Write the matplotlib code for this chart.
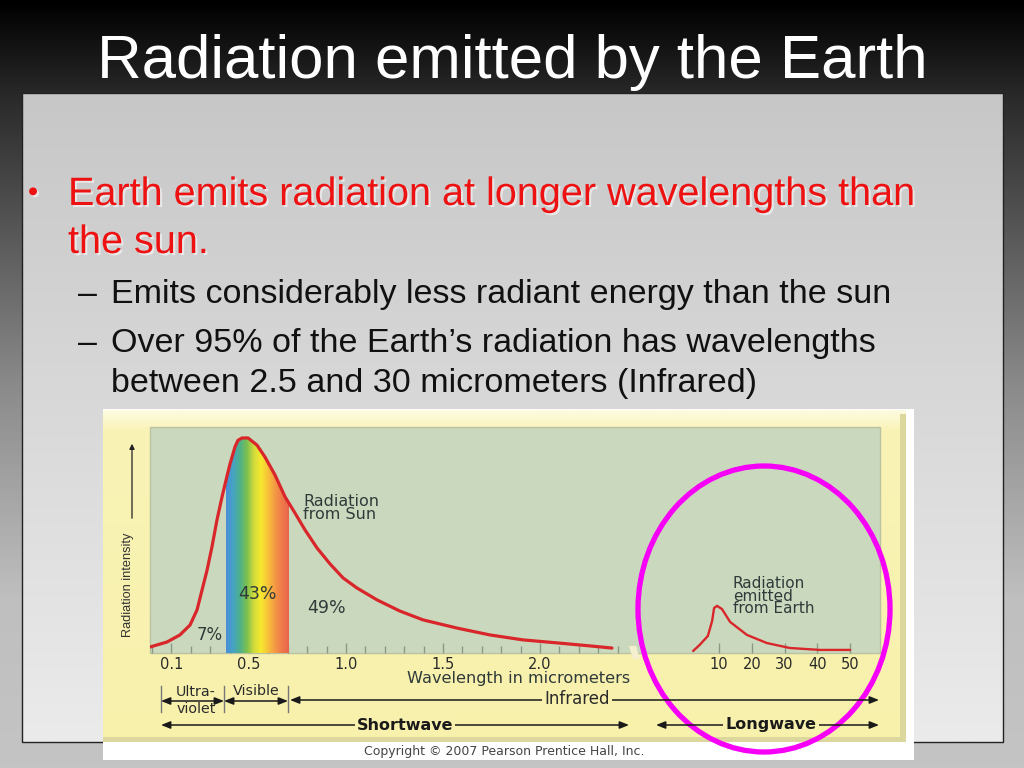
import numpy as np
import matplotlib
matplotlib.use('Agg')
import matplotlib.pyplot as plt
import matplotlib.patheffects as pe
from matplotlib.colors import LinearSegmentedColormap
from matplotlib.patches import Rectangle, Ellipse, Polygon
from matplotlib.ticker import MultipleLocator

# slide text
title = 'Radiation emitted by the Earth'
bullet_lines = ['Earth emits radiation at longer wavelengths than', 'the sun.']
sub_1 = 'Emits considerably less radiant energy than the sun'
sub_2 = ['Over 95% of the Earth\u2019s radiation has wavelengths',
         'between 2.5 and 30 micrometers (Infrared)']

# solar curve (micrometers, relative intensity)
sun_um = [-0.01, 0.077, 0.144, 0.196, 0.232, 0.258, 0.284, 0.309, 0.335, 0.361,
          0.387, 0.402, 0.428, 0.443, 0.464, 0.495, 0.541, 0.582, 0.634, 0.686,
          0.737, 0.789, 0.851, 0.918, 0.985, 1.057, 1.160, 1.278, 1.397, 1.572,
          1.742, 1.912, 2.088, 2.258, 2.371]
sun_int = [0.014, 0.037, 0.070, 0.116, 0.186, 0.279, 0.372, 0.479, 0.605, 0.712,
           0.810, 0.865, 0.945, 0.975, 0.986, 0.986, 0.953, 0.898, 0.814, 0.712,
           0.637, 0.558, 0.474, 0.400, 0.335, 0.288, 0.233, 0.181, 0.140, 0.102,
           0.070, 0.047, 0.033, 0.019, 0.009]

# earth curve
earth_um = [2.1, 4.2, 6.6, 7.9, 8.5, 9.4, 10.9, 13.4, 18.5, 24.6, 31.6, 40.8, 50.0]
earth_int = [0.0, 0.03, 0.07, 0.14, 0.20, 0.21, 0.195, 0.135, 0.075, 0.037,
             0.014, 0.005, 0.005]

sw_ticks = [0.1, 0.5, 1.0, 1.5, 2.0]
sw_labels = ['0.1', '0.5', '1.0', '1.5', '2.0']
lw_ticks = [10, 20, 30, 40, 50]
lw_labels = ['10', '20', '30', '40', '50']
visible_band = (0.38, 0.70)
pct_labels = ['7%', '43%', '49%']

spectrum = ['#4a8fd8', '#45a3c4', '#4fb08a', '#7cc04f', '#d2dc3c', '#f6e92e',
            '#f7c23a', '#f49a44', '#ee7a4a', '#e8654a']

W, H = 1024, 768
fig = plt.figure(figsize=(10.24, 7.68), dpi=100)


def fig_box(x0, y0, x1, y1):
    return [x0 / W, 1 - y1 / H, (x1 - x0) / W, (y1 - y0) / H]


# background in pixel coords
ax_bg = fig.add_axes([0, 0, 1, 1])
ax_bg.set_xlim(0, W)
ax_bg.set_ylim(H, 0)
ax_bg.axis('off')

bg_cmap = LinearSegmentedColormap.from_list(
    'bg', [(0, '#000000'), (0.13, '#2c2c2c'), (0.5, '#8a8a8a'),
           (0.78, '#bfbfbf'), (1, '#c4c4c4')])
grad = np.linspace(0, 1, 256)[:, None]
ax_bg.imshow(grad, extent=[0, W, H, 0], cmap=bg_cmap, aspect='auto', zorder=0)

box_cmap = LinearSegmentedColormap.from_list('box', ['#c7c7c7', '#ebebeb'])
ax_bg.imshow(grad, extent=[22, 1003, 742, 93], cmap=box_cmap, aspect='auto', zorder=1)
ax_bg.add_patch(Rectangle((22, 93), 981, 649, fill=False, ec='#222222', lw=1, zorder=2))

# picture frame
ax_bg.add_patch(Rectangle((103, 409), 811, 351, fc='white', ec='none', zorder=3))
yel_cmap = LinearSegmentedColormap.from_list(
    'yel', [(0, '#fdfbe2'), (0.06, '#f9f3b6'), (1, '#f8f1ac')])
ax_bg.imshow(grad, extent=[103, 906, 742, 410], cmap=yel_cmap, aspect='auto', zorder=4)
ax_bg.add_patch(Rectangle((900, 414), 6, 328, fc='#dcd79c', ec='none', zorder=5))
ax_bg.add_patch(Rectangle((103, 737), 803, 5, fc='#dcd79c', ec='none', zorder=5))
ax_bg.add_patch(Rectangle((150, 427), 730, 226, fc='#cad9bd', ec='#b9c3a2', lw=1,
                          zorder=6))
ax_bg.set_xlim(0, W)
ax_bg.set_ylim(H, 0)

# shortwave part
ax_sw = fig.add_axes(fig_box(150, 427, 630, 653))
ax_sw.set_facecolor('none')
sw_ylim = (-0.014, 1.037)
sw_xlim = (-0.0103, 2.464)

spec_cmap = LinearSegmentedColormap.from_list('spec', spectrum)
im = ax_sw.imshow(np.linspace(0, 1, 256)[None, :],
                  extent=[visible_band[0], visible_band[1], sw_ylim[0], 1.05],
                  cmap=spec_cmap, aspect='auto', zorder=1)
clip = Polygon(list(zip(sun_um, sun_int)) + [(sun_um[-1], sw_ylim[0]),
                                             (sun_um[0], sw_ylim[0])],
               closed=True, fc='none', ec='none', transform=ax_sw.transData)
ax_sw.add_patch(clip)
im.set_clip_path(clip)
ax_sw.plot(sun_um, sun_int, color='#d8262b', lw=2.3, zorder=3,
           solid_capstyle='round', solid_joinstyle='round')
ax_sw.set_xlim(*sw_xlim)
ax_sw.set_ylim(*sw_ylim)

# longwave part
ax_lw = fig.add_axes(fig_box(640, 427, 880, 653))
ax_lw.set_facecolor('none')
ax_lw.plot(earth_um, earth_int, color='#d8262b', lw=1.7, zorder=3,
           solid_capstyle='round', solid_joinstyle='round')
ax_lw.set_xlim(-14.1, 59.1)
ax_lw.set_ylim(-0.0093, 1.042)

for ax, ticks, labels in [(ax_sw, sw_ticks, sw_labels), (ax_lw, lw_ticks, lw_labels)]:
    ax.set_axisbelow(True)
    for s in ax.spines.values():
        s.set_visible(False)
    ax.set_yticks([])
    ax.set_xticks(ticks)
    ax.set_xticklabels(labels, family='DejaVu Sans', fontsize=10.5, color='#2a2a2a')
    ax.tick_params(axis='x', which='major', direction='in', length=7, width=1,
                   color='#8a9886', pad=3)
    ax.tick_params(axis='x', which='minor', direction='in', length=5, width=1,
                   color='#8a9886')
ax_sw.xaxis.set_minor_locator(MultipleLocator(0.1))

# overlay in pixel coords
ax_top = fig.add_axes([0, 0, 1, 1])
ax_top.set_facecolor('none')
ax_top.set_xlim(0, W)
ax_top.set_ylim(H, 0)
ax_top.axis('off')

sans = ['Liberation Sans', 'DejaVu Sans']
ax_top.text(512, 78, title, ha='center', va='baseline', color='white',
            fontsize=44.5, family=sans)

shadow = [pe.withSimplePatchShadow(offset=(1.5, -1.5), shadow_rgbFace='#ffffff', alpha=0.55)]
ax_top.text(33, 201, '\u2022', ha='center', va='baseline', color='#ee1111',
            fontsize=21, family=sans, path_effects=shadow)
for i, line in enumerate(bullet_lines):
    ax_top.text(68, 205 + 48 * i, line, ha='left', va='baseline', color='#ee1111',
                fontsize=28.5, family=sans, path_effects=shadow)

ax_top.text(78, 303, '\u2013', ha='left', va='baseline', color='#111111',
            fontsize=24.5, family=sans)
ax_top.text(111, 303, sub_1, ha='left', va='baseline', color='#111111',
            fontsize=24.5, family=sans)
ax_top.text(78, 352, '\u2013', ha='left', va='baseline', color='#111111',
            fontsize=24.5, family=sans)
ax_top.text(111, 352, sub_2[0], ha='left', va='baseline', color='#111111',
            fontsize=24.5, family=sans)
ax_top.text(111, 392, sub_2[1], ha='left', va='baseline', color='#111111',
            fontsize=24.5, family=sans)

# chart labels
lab = dict(family='DejaVu Sans', color='#2f3a3a')
ax_top.text(303, 494, 'Radiation\nfrom Sun', ha='left', va='top', fontsize=11.5,
            linespacing=0.8, **lab)
ax_top.text(733, 576, 'Radiation\nemitted\nfrom Earth', ha='left', va='top',
            fontsize=11, linespacing=0.8, **lab)
ax_top.text(210, 635, pct_labels[0], ha='center', va='center', fontsize=12, **lab)
ax_top.text(257, 594, pct_labels[1], ha='center', va='center', fontsize=12.5, **lab)
ax_top.text(326, 608, pct_labels[2], ha='center', va='center', fontsize=12.5, **lab)
ax_top.text(519, 679, 'Wavelength in micrometers', ha='center', va='center',
            fontsize=11.6, **lab)
ax_top.text(128, 585, 'Radiation intensity', ha='center', va='center', rotation=90,
            fontsize=9.2, family=sans, color='#333333')
ax_top.annotate('', xy=(132, 441), xytext=(132, 521),
                arrowprops=dict(arrowstyle='-|>,head_length=0.3,head_width=0.15',
                                color='#222222', lw=0.9))

# break in the axis
ax_top.add_patch(Polygon([(629, 646), (636, 646), (640, 659), (633, 659)],
                         closed=True, fc='#f4efcf', ec='none'))

# range markers
for x in [161, 224, 288]:
    ax_top.plot([x, x], [686, 712], color='#777777', lw=1)

arr = dict(arrowstyle='<|-|>,head_length=0.55,head_width=0.22', color='#1a1a1a',
           lw=1.1, shrinkA=0, shrinkB=0)
for x0, x1, y in [(161, 224, 701), (224, 288, 701), (290, 879, 700),
                  (161, 629, 725), (656, 879, 725)]:
    ax_top.annotate('', xy=(x1, y), xytext=(x0, y), arrowprops=arr)

small = dict(family='DejaVu Sans', color='#2a2a2a', fontsize=10.3)
ax_top.text(196, 692, 'Ultra-', ha='center', va='center', **small)
ax_top.text(196, 709, 'violet', ha='center', va='center', **small)
ax_top.text(256, 691, 'Visible', ha='center', va='center', **small)
ybox = dict(fc='#f8f1ae', ec='none', pad=1.5)
ax_top.text(577, 699, 'Infrared', ha='center', va='center', fontsize=12,
            family='DejaVu Sans', color='#2a2a2a', bbox=ybox)
ax_top.text(405, 725, 'Shortwave', ha='center', va='center', fontsize=11.5,
            family='DejaVu Sans', weight='bold', color='#1a1a1a', bbox=ybox)
ax_top.text(771, 725, 'Longwave', ha='center', va='center', fontsize=11.5,
            family='DejaVu Sans', weight='bold', color='#1a1a1a', bbox=ybox)
ax_top.text(504, 752, 'Copyright \u00a9 2007 Pearson Prentice Hall, Inc.',
            ha='center', va='center', fontsize=9, family='DejaVu Sans',
            color='#444444')

ax_top.add_patch(Ellipse((764, 609), 252, 286, fill=False, ec='#f700f7', lw=3.8))

fig.savefig('out.png', dpi=100)
